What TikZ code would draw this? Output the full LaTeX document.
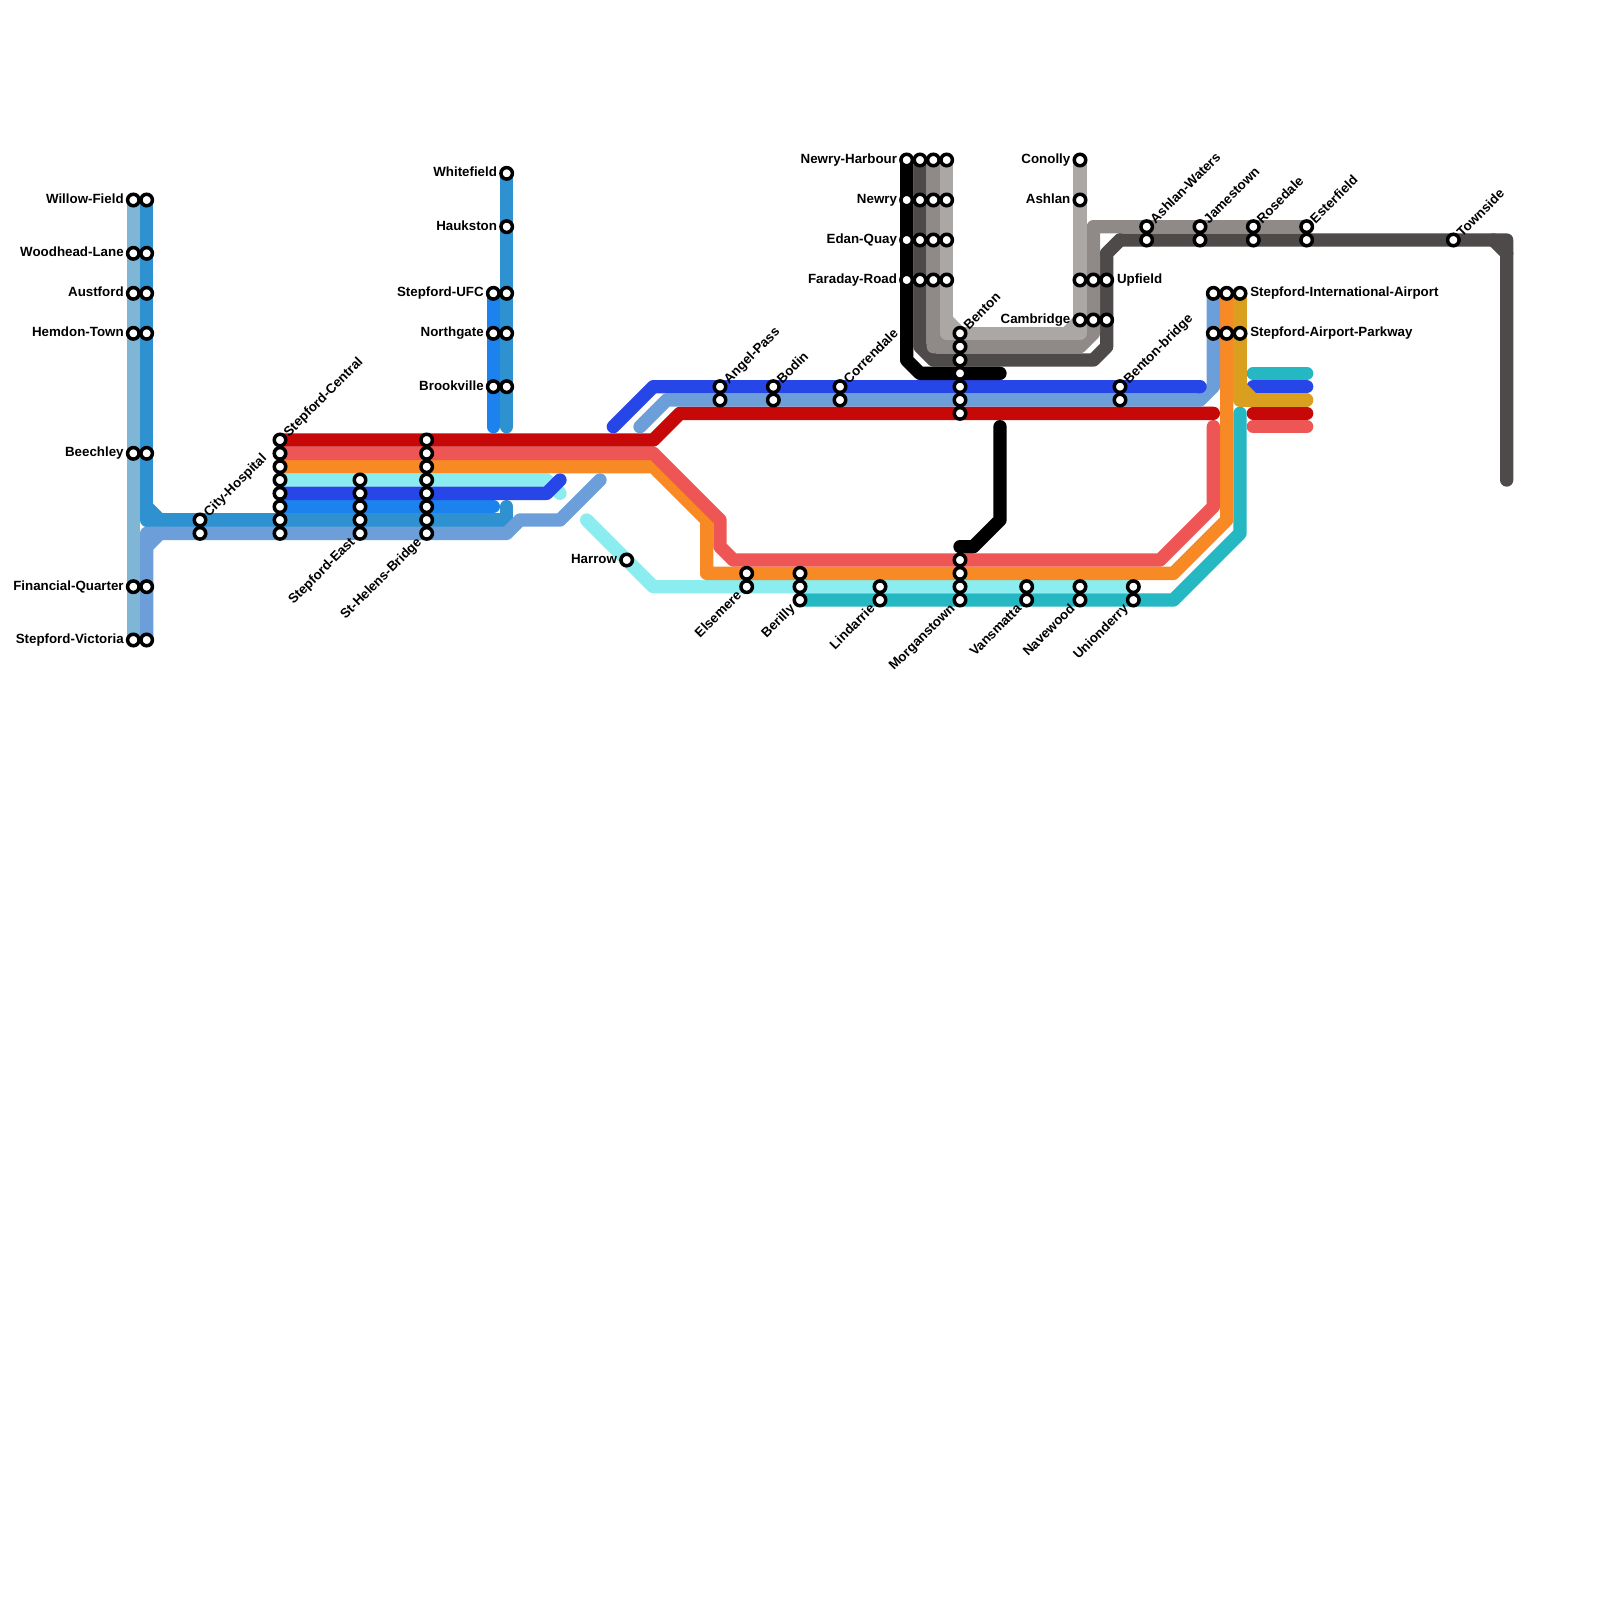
\documentclass[tikz,border=0pt]{standalone}
\usepackage{fontspec}
\setmainfont{Liberation Sans}
\pgfdeclarelayer{lines}
\pgfsetlayers{lines,main}
\definecolor{cLight}{HTML}{7FB5D5}
\definecolor{cBlue}{HTML}{2E92D1}
\definecolor{cBright}{HTML}{1B82EE}
\definecolor{cPeri}{HTML}{6C9FDA}
\definecolor{cRed}{HTML}{C60808}
\definecolor{cCoral}{HTML}{EE5555}
\definecolor{cOrange}{HTML}{F88A25}
\definecolor{cCyan}{HTML}{8BEDF0}
\definecolor{cRoyal}{HTML}{2746E8}
\definecolor{cTeal}{HTML}{25B8C2}
\definecolor{cGold}{HTML}{DA9F1E}
\definecolor{cDark}{HTML}{4E4A49}
\definecolor{cMid}{HTML}{8F8A88}
\definecolor{cPale}{HTML}{ABA7A5}
\tikzset{
  route/.style={line width=0.4cm,line cap=round,line join=round},
  stn/.style={circle,draw=black,fill=white,line width=0.105cm,minimum size=0.345cm,inner sep=0pt,outer sep=0pt},
  txt/.style={font=\fontsize{11.38}{13}\selectfont\bfseries,inner sep=0pt,outer sep=0pt,text=black},
  lblL/.style={txt,anchor=base east,xshift=-0.29cm,yshift=-0.105cm},
  lblR/.style={txt,anchor=base west,xshift=0.31cm,yshift=-0.105cm},
  lblU/.style={txt,shift={(0.27cm,0.08cm)},rotate=45,anchor=base west},
  lblD/.style={txt,shift={(-0.135cm,-0.29cm)},rotate=45,anchor=base east}
}
\begin{document}
\begin{tikzpicture}[x=0.4cm,y=-0.4cm]
\useasboundingbox (0,0) rectangle (120,120);
% stations
\foreach \c/\r in {10/15,11/15,10/19,11/19,10/22,11/22,10/25,11/25,10/34,11/34,10/44,11/44,10/48,11/48,
  38/13,38/17,37/22,38/22,37/25,38/25,37/29,38/29,15/39,15/40,
  21/33,21/34,21/35,21/36,21/37,21/38,21/39,21/40,27/36,27/37,27/38,27/39,27/40,
  32/33,32/34,32/35,32/36,32/37,32/38,32/39,32/40,47/42,
  54/29,54/30,58/29,58/30,63/29,63/30,84/29,84/30,
  68/12,69/12,70/12,71/12,68/15,69/15,70/15,71/15,68/18,69/18,70/18,71/18,68/21,69/21,70/21,71/21,
  72/25,72/26,72/27,72/28,72/29,72/30,72/31,72/42,72/43,72/44,72/45,
  56/43,56/44,60/43,60/44,60/45,66/44,66/45,77/44,77/45,81/44,81/45,85/44,85/45,
  81/12,81/15,81/21,82/21,83/21,81/24,82/24,83/24,
  86/17,86/18,90/17,90/18,94/17,94/18,98/17,98/18,109/18,
  91/22,92/22,93/22,91/25,92/25,93/25}
  {\node[stn] (s-\c-\r) at (\c,\r) {};}
% free line ends
\coordinate (endRoyalA) at (46,32);
\coordinate (endRoyalB) at (90,29);
\coordinate (endRoyalC) at (42,36);
\coordinate (endRoyalD) at (94,29);
\coordinate (endRoyalE) at (98,29);
\coordinate (endPeriA) at (48,32);
\coordinate (endPeriB) at (45,36);
\coordinate (endRedA) at (91,31);
\coordinate (endRedB) at (94,31);
\coordinate (endRedC) at (98,31);
\coordinate (endCoralA) at (91,32);
\coordinate (endCoralB) at (94,32);
\coordinate (endCoralC) at (98,32);
\coordinate (endCyanA) at (42,37);
\coordinate (endCyanB) at (44,39);
\coordinate (endTealA) at (93,31);
\coordinate (endTealB) at (94,28);
\coordinate (endTealC) at (98,28);
\coordinate (endGold) at (98,30);
\coordinate (endBlueA) at (38,32);
\coordinate (endBlueB) at (38,38);
\coordinate (endBright) at (37,32);
\coordinate (endBrightB) at (37,38);
\coordinate (endBlackA) at (75,28);
\coordinate (endBlackB) at (75,32);
\coordinate (endBlackC) at (72,41);
\coordinate (endDark) at (113,36);
\begin{pgfonlayer}{lines}
\fill[white] (0,0) rectangle (120,120);
% airport stubs
\draw[route,cTeal] (endTealB) -- (endTealC);
\draw[route,cRoyal] (endRoyalD) -- (endRoyalE);
\draw[route,cRed] (endRedB) -- (endRedC);
\draw[route,cCoral] (endCoralB) -- (endCoralC);
% west-side lines
\draw[route,cBlue] (s-38-13.center) -- (endBlueA);
\draw[route,cBlue] (s-11-15.center) -- (11,39) -- (38,39) -- (endBlueB);
\draw[route,cBlue] (11,38) -- (12,39);
\draw[route,cBright] (s-37-22.center) -- (endBright);
\draw[route,cBright] (s-21-38.center) -- (endBrightB);
\draw[route,cPeri] (s-11-48.center) -- (11,40) -- (38,40) -- (39,39) -- (42,39) -- (endPeriB);
\draw[route,cPeri] (11,41) -- (12,40);
\draw[route,cLight] (s-10-15.center) -- (s-10-48.center);
\draw[route,cCyan] (s-21-36.center) -- (41,36) -- (endCyanA);
\draw[route,cRoyal] (s-21-37.center) -- (41,37) -- (endRoyalC);
% cyan and teal lower lines
\draw[route,cCyan] (endCyanB) -- (49,44) -- (s-85-44.center);
\draw[route,cTeal] (s-60-45.center) -- (88,45) -- (93,40) -- (endTealA);
% orange, coral, red
\draw[route,cOrange] (s-21-35.center) -- (49,35) -- (53,39) -- (53,43) -- (88,43) -- (92,39) -- (s-92-22.center);
\draw[route,cCoral] (s-21-34.center) -- (49,34) -- (54,39) -- (54,41) -- (55,42) -- (87,42) -- (91,38) -- (endCoralA);
\draw[route,cRed] (s-21-33.center) -- (49,33) -- (51,31) -- (endRedA);
% upper royal and periwinkle
\draw[route,cPeri] (endPeriA) -- (50,30) -- (90,30) -- (91,29) -- (s-91-22.center);
\draw[route,cRoyal] (endRoyalA) -- (49,29) -- (endRoyalB);
% gold
\draw[route,cGold] (s-93-22.center) -- (93,30) -- (endGold);
\draw[route,cGold] (93,29) -- (94,30);
% greys
\draw[route,cDark] (s-69-12.center) -- (69,26) -- (70,27) -- (82,27) -- (83,26) -- (83,19) -- (84,18) -- (113,18) -- (endDark);
\draw[route,cDark] (112,18) -- (113,19);
\draw[route,cMid] (s-70-12.center) -- (70,26) -- (81,26) -- (82,25) -- (82,17) -- (s-98-17.center);
\draw[route,cMid] (70,25) -- (71,26);
\draw[route,cDark] (83,19) -- (84,18);
\draw[route,cPale] (s-71-12.center) -- (71,25) -- (81,25) -- (s-81-12.center);
\draw[route,cPale] (71,24) -- (72,25);
\draw[route,cPale] (80,25) -- (81,24);
\draw[route,black] (s-68-12.center) -- (68,27) -- (69,28) -- (endBlackA);
\draw[route,black] (endBlackB) -- (75,39) -- (73,41) -- (endBlackC);
\end{pgfonlayer}
% left labels
\node[lblL] (t1) at (s-10-15.center) {Willow-Field};
\node[lblL] (t2) at (s-10-19.center) {Woodhead-Lane};
\node[lblL] (t3) at (s-10-22.center) {Austford};
\node[lblL] (t4) at (s-10-25.center) {Hemdon-Town};
\node[lblL] (t5) at (s-10-34.center) {Beechley};
\node[lblL] (t6) at (s-10-44.center) {Financial-Quarter};
\node[lblL] (t7) at (s-10-48.center) {Stepford-Victoria};
\node[lblL] (t8) at (s-38-13.center) {Whitefield};
\node[lblL] (t9) at (s-38-17.center) {Haukston};
\node[lblL] (t10) at (s-37-22.center) {Stepford-UFC};
\node[lblL] (t11) at (s-37-25.center) {Northgate};
\node[lblL] (t12) at (s-37-29.center) {Brookville};
\node[lblL] (t13) at (s-47-42.center) {Harrow};
\node[lblL] (t14) at (s-68-12.center) {Newry-Harbour};
\node[lblL] (t15) at (s-68-15.center) {Newry};
\node[lblL] (t16) at (s-68-18.center) {Edan-Quay};
\node[lblL] (t17) at (s-68-21.center) {Faraday-Road};
\node[lblL] (t18) at (s-81-12.center) {Conolly};
\node[lblL] (t19) at (s-81-15.center) {Ashlan};
\node[lblL] (t20) at (s-81-24.center) {Cambridge};
% right labels
\node[lblR] (t21) at (s-83-21.center) {Upfield};
\node[lblR] (t22) at (s-93-22.center) {Stepford-International-Airport};
\node[lblR] (t23) at (s-93-25.center) {Stepford-Airport-Parkway};
% rotated upward
\node[lblU] (t24) at (s-15-39.center) {City-Hospital};
\node[lblU] (t25) at (s-21-33.center) {Stepford-Central};
\node[lblU] (t26) at (s-54-29.center) {Angel-Pass};
\node[lblU] (t27) at (s-58-29.center) {Bodin};
\node[lblU] (t28) at (s-63-29.center) {Correndale};
\node[lblU] (t29) at (s-72-25.center) {Benton};
\node[lblU] (t30) at (s-84-29.center) {Benton-bridge};
\node[lblU] (t31) at (s-86-17.center) {Ashlan-Waters};
\node[lblU] (t32) at (s-90-17.center) {Jamestown};
\node[lblU] (t33) at (s-94-17.center) {Rosedale};
\node[lblU] (t34) at (s-98-17.center) {Esterfield};
\node[lblU] (t35) at (s-109-18.center) {Townside};
% rotated downward
\node[lblD] (t36) at (s-27-40.center) {Stepford-East};
\node[lblD] (t37) at (s-32-40.center) {St-Helens-Bridge};
\node[lblD] (t38) at (s-56-44.center) {Elsemere};
\node[lblD] (t39) at (s-60-45.center) {Berilly};
\node[lblD] (t40) at (s-66-45.center) {Lindarrie};
\node[lblD] (t41) at (s-72-45.center) {Morganstown};
\node[lblD] (t42) at (s-77-45.center) {Vansmatta};
\node[lblD] (t43) at (s-81-45.center) {Navewood};
\node[lblD] (t44) at (s-85-45.center) {Unionderry};
\end{tikzpicture}
\end{document}
